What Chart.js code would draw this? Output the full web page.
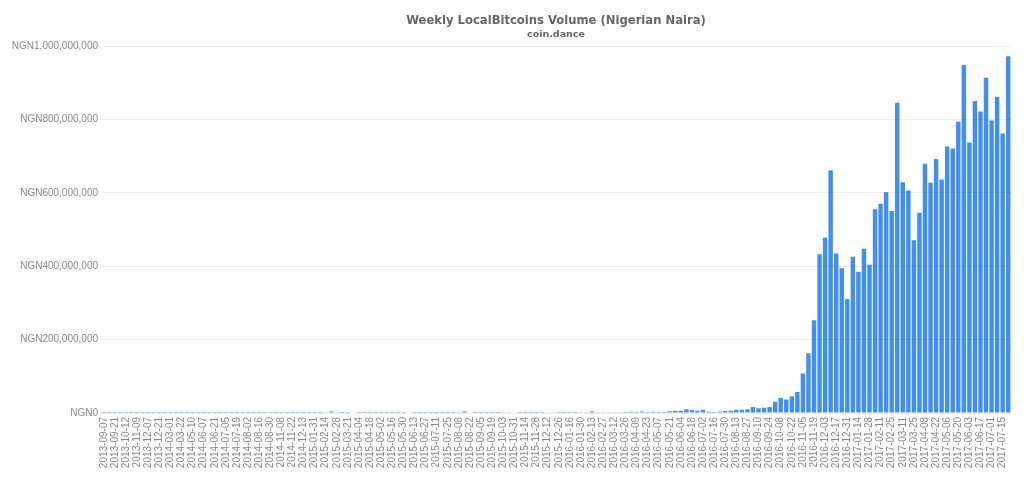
<!DOCTYPE html>
<html><head><meta charset="utf-8">
<style>html,body{margin:0;padding:0;background:#fff}canvas{display:block}</style>
<script src="https://cdn.jsdelivr.net/npm/chart.js@4"></script>
</head><body><canvas id="c" width="1024" height="483" style="width:1024px;height:483px"></canvas>
<script>
const weeks2013_2014 = ["2013-09-07","2013-09-14","2013-09-21","2013-09-28","2013-10-12","2013-10-26","2013-11-09","2013-11-23","2013-12-07","2013-12-14","2013-12-21","2014-01-25","2014-03-01","2014-03-08","2014-03-22","2014-04-19","2014-05-10","2014-05-24","2014-06-07","2014-06-14","2014-06-21","2014-06-28","2014-07-05","2014-07-12","2014-07-19","2014-07-26","2014-08-02","2014-08-09","2014-08-16","2014-08-23","2014-08-30","2014-10-04","2014-11-08","2014-11-15","2014-11-22","2014-11-29","2014-12-13","2015-01-10"];
const weeks2015 = ["2015-01-31","2015-02-07","2015-02-14","2015-02-21","2015-02-28","2015-03-07","2015-03-21","2015-03-28","2015-04-04","2015-04-11","2015-04-18","2015-04-25","2015-05-02","2015-05-09","2015-05-16","2015-05-23","2015-05-30","2015-06-06","2015-06-13","2015-06-20","2015-06-27","2015-07-04","2015-07-11","2015-07-18","2015-07-25","2015-08-01","2015-08-08","2015-08-15","2015-08-22","2015-08-29","2015-09-05","2015-09-12","2015-09-19","2015-09-26","2015-10-03","2015-10-17","2015-10-31","2015-11-07","2015-11-14","2015-11-21","2015-11-28","2015-12-05","2015-12-12","2015-12-19","2015-12-26","2016-01-09"];
const weeks2016 = ["2016-01-16","2016-01-23","2016-01-30","2016-02-06","2016-02-13","2016-02-20","2016-02-27","2016-03-05","2016-03-12","2016-03-19","2016-03-26","2016-04-02","2016-04-09","2016-04-16","2016-04-23","2016-04-30","2016-05-07","2016-05-14","2016-05-21","2016-05-28","2016-06-04","2016-06-11","2016-06-18","2016-06-25","2016-07-02","2016-07-09","2016-07-16","2016-07-23","2016-07-30","2016-08-06","2016-08-13","2016-08-20","2016-08-27","2016-09-03","2016-09-10","2016-09-17","2016-09-24","2016-10-01","2016-10-08","2016-10-15","2016-10-22","2016-10-29","2016-11-05","2016-11-12","2016-11-19","2016-11-26","2016-12-03","2016-12-10","2016-12-17","2016-12-24","2016-12-31","2017-01-07"];
const weeks2017 = ["2017-01-14","2017-01-21","2017-01-28","2017-02-04","2017-02-11","2017-02-18","2017-02-25","2017-03-04","2017-03-11","2017-03-18","2017-03-25","2017-04-01","2017-04-08","2017-04-15","2017-04-22","2017-04-29","2017-05-06","2017-05-13","2017-05-20","2017-05-27","2017-06-03","2017-06-10","2017-06-17","2017-06-24","2017-07-01","2017-07-08","2017-07-15","2017-07-22"];
const categories = [...weeks2013_2014, ...weeks2015, ...weeks2016, ...weeks2017];

// millions of naira, oldest first
const volumeEarly = [
0.03,0.03,0.03,0.03,0.03,0.03,0.03,0.03,0.03,0.03,
0.03,0.03,0.03,0.03,0.03,0.03,0.03,0.03,0.03,0.03,
0.03,0.03,0.03,0.03,0.03,0.03,0.03,0.03,0.03,0.03,
0.03,0.03,0.03,0.03,0.03,0.03,0.03,0.05,0.05,0.1,
0.5,4,0.5,0.1,0.1,1.5,0.1,0.05,0.05,0.05,
0.05,0.05,0.05,0.1,0.1,1.2,0.1,0.05,0.05,0.05,
0.05,0.05,0.05,0.1,0.5,4,1.5,0.1,0.05,0.05,
0.1,0.1,0.5,2,1.2,0.1,0.05,0.05,0.1,0.3,
1.5,0.5,0.1,0.1,0.1,0.2,0.4,1,4,2,
0.5,0.5,1,2,3,3.5,3,4,3,3.5];
const volumeLate = [
3,3,4.5,6.4,6.4,10,8,6.4,9,3.6,
2.7,3.6,5.5,6.4,9,9,10,16.4,12.7,14.5,
16.4,31,41,37,45.5,57,108,163,253,433,
478,662,435,395,311,426,385,448,404,556,
571,602,551,846,629,607,471,546,680,628,
693,637,727,721,794,949,738,851,822,914,
798,862,762,973];
const volume = [...volumeEarly, ...volumeLate].map(v => v * 1e6);

const yTickValues = [0,200000000,400000000,600000000,800000000,1000000000];
const titleText = "Weekly LocalBitcoins Volume (Nigerian Naira)";
const subtitleText = "coin.dance";

new Chart(document.getElementById("c"), {
  type: "bar",
  data: { labels: categories, datasets: [{
    data: volume,
    backgroundColor: "#3f8ff6",
    borderWidth: 0,
    barPercentage: 1,
    categoryPercentage: 0.8
  }]},
  options: {
    responsive: false, animation: false, devicePixelRatio: 1,
    layout: { padding: { top: 0, right: 13, bottom: 6, left: 0 } },
    plugins: {
      legend: { display: false }, tooltip: { enabled: false },
      title: { display: true, fullSize: false, text: titleText, color: "#666", font: { family: "DejaVu Sans", size: 11.6, weight: "bold" }, padding: { top: 14, bottom: 1 } },
      subtitle: { display: true, fullSize: false, text: subtitleText, color: "#666", font: { family: "DejaVu Sans", size: 9.5, weight: "bold" }, padding: { top: 0, bottom: 6 } }
    },
    scales: {
      x: {
        grid: { display: false, tickLength: 4 }, border: { display: false },
        afterFit(s) { s.height = 64; },
        ticks: { autoSkip: false, minRotation: 90, maxRotation: 90, padding: 0, color: "#888",
          font: { family: "Liberation Sans", size: 10 },
          callback(v, i) { return i % 2 === 0 ? this.getLabelForValue(v) : ""; } }
      },
      y: {
        min: 0, max: 1000000000,
        afterBuildTicks(s) { s.ticks = yTickValues.map(value => ({ value })); },
        afterFit(s) { s.width = 101; },
        grid: { color: "rgba(0,0,0,0.07)", lineWidth: 1, drawTicks: false, z: 1 },
        border: { display: false },
        ticks: { padding: 3, color: "#888", font: { family: "Liberation Sans", size: 10 },
          callback(v) { return "NGN" + Number(v).toLocaleString("en-US"); } }
      }
    }
  }
});
</script></body></html>
